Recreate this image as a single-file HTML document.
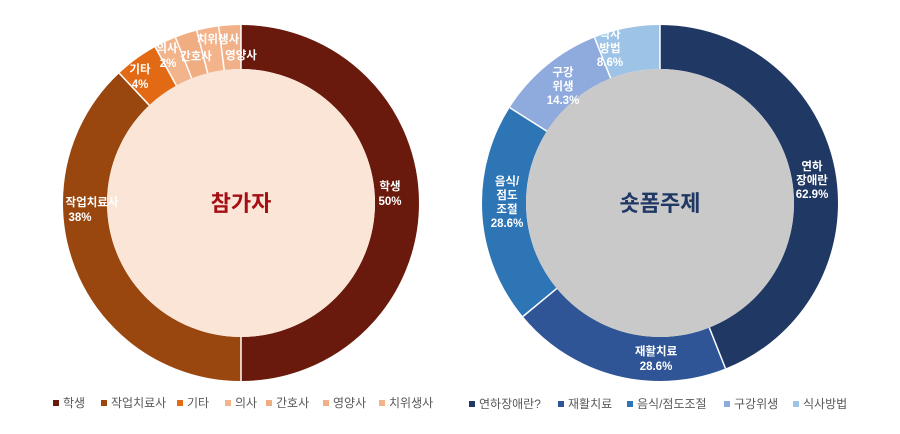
<!DOCTYPE html>
<html><head><meta charset="utf-8"><style>
body{margin:0;background:#fff;}
svg{display:block;font-family:"Liberation Sans","Noto Sans CJK KR",sans-serif;}
.w{fill:#fff;font-size:11.5px;font-weight:bold;}
.lg{fill:#595959;font-size:12px;}
</style></head><body>
<svg width="900" height="434" viewBox="0 0 900 434">
<g transform="translate(241,203) rotate(-90)" fill="none" stroke-width="44">
<circle r="156" stroke="#6a1a0c" stroke-dasharray="490.09 980.18" stroke-dashoffset="0"/>
<circle r="156" stroke="#9a470f" stroke-dasharray="372.47 980.18" stroke-dashoffset="-490.09"/>
<circle r="156" stroke="#e26a14" stroke-dasharray="39.21 980.18" stroke-dashoffset="-862.56"/>
<circle r="156" stroke="#f2b48a" stroke-dasharray="19.6 980.18" stroke-dashoffset="-901.77"/>
<circle r="156" stroke="#f0ad82" stroke-dasharray="19.6 980.18" stroke-dashoffset="-921.37"/>
<circle r="156" stroke="#f3b48c" stroke-dasharray="19.6 980.18" stroke-dashoffset="-940.97"/>
<circle r="156" stroke="#f1b088" stroke-dasharray="19.6 980.18" stroke-dashoffset="-960.58"/>
</g>
<g transform="translate(660,203) rotate(-90)" fill="none" stroke-width="44">
<circle r="156" stroke="#203864" stroke-dasharray="431.2 980.18" stroke-dashoffset="0"/>
<circle r="156" stroke="#2f5597" stroke-dasharray="196.04 980.18" stroke-dashoffset="-431.2"/>
<circle r="156" stroke="#2e75b6" stroke-dasharray="196.04 980.18" stroke-dashoffset="-627.24"/>
<circle r="156" stroke="#8faadc" stroke-dasharray="98.02 980.18" stroke-dashoffset="-823.28"/>
<circle r="156" stroke="#9dc3e6" stroke-dasharray="58.9 980.18" stroke-dashoffset="-921.3"/>
</g>
<g stroke="#fff" stroke-width="1.5">
<line x1="241" y1="25" x2="241" y2="69"/><line x1="241" y1="337" x2="241" y2="381"/>
<line x1="149.3" y1="105.3" x2="119.2" y2="73.2"/>
<line x1="176.4" y1="85.6" x2="155.2" y2="47"/>
<line x1="191.7" y1="78.4" x2="175.5" y2="37.5"/>
<line x1="207.7" y1="73.2" x2="196.7" y2="30.6"/>
<line x1="224.2" y1="70.1" x2="218.7" y2="26.4"/>
<line x1="660" y1="25" x2="660" y2="69"/>
<line x1="709.3" y1="327.6" x2="725.5" y2="368.5"/>
<line x1="556.8" y1="288.4" x2="522.9" y2="316.5"/>
<line x1="546.9" y1="131.2" x2="509.7" y2="107.6"/>
<line x1="610.7" y1="78.4" x2="594.5" y2="37.5"/>
</g>
<circle cx="241" cy="203" r="134" fill="#fbe5d6"/>
<text x="241" y="211" text-anchor="middle" font-size="22" font-weight="bold" fill="#a50f14">참가자</text>
<text class="w" x="390" y="190" text-anchor="middle">학생</text>
<text class="w" x="390" y="205" text-anchor="middle">50%</text>
<text class="w" x="92" y="206" text-anchor="middle">작업치료사</text>
<text class="w" x="80" y="221" text-anchor="middle">38%</text>
<text class="w" x="140" y="73" text-anchor="middle">기타</text>
<text class="w" x="140" y="88" text-anchor="middle">4%</text>
<text class="w" x="167" y="52" text-anchor="middle">의사</text>
<text class="w" x="168" y="67" text-anchor="middle">2%</text>
<text class="w" x="196" y="60" text-anchor="middle">간호사</text>
<text class="w" x="218" y="43" text-anchor="middle">치위생사</text>
<text class="w" x="241" y="59" text-anchor="middle">영양사</text>

<circle cx="660" cy="203" r="134" fill="#c9c9c9"/>
<text x="660" y="211" text-anchor="middle" font-size="22" font-weight="bold" fill="#1f3864">숏폼주제</text>
<text class="w" x="812" y="170" text-anchor="middle">연하</text>
<text class="w" x="812" y="184" text-anchor="middle">장애란</text>
<text class="w" x="812" y="198" text-anchor="middle">62.9%</text>
<text class="w" x="656" y="355" text-anchor="middle">재활치료</text>
<text class="w" x="656" y="370" text-anchor="middle">28.6%</text>
<text class="w" x="507" y="185" text-anchor="middle">음식/</text>
<text class="w" x="507" y="199" text-anchor="middle">점도</text>
<text class="w" x="507" y="213" text-anchor="middle">조절</text>
<text class="w" x="507" y="227" text-anchor="middle">28.6%</text>
<text class="w" x="563" y="76" text-anchor="middle">구강</text>
<text class="w" x="563" y="90" text-anchor="middle">위생</text>
<text class="w" x="563" y="104" text-anchor="middle">14.3%</text>
<text class="w" x="610" y="38" text-anchor="middle">식사</text>
<text class="w" x="610" y="52" text-anchor="middle">방법</text>
<text class="w" x="610" y="66" text-anchor="middle">8.6%</text>

<g class="lg">
<rect x="53" y="400" width="6" height="6" fill="#6a1a0c"/><text x="63" y="407">학생</text>
<rect x="101" y="400" width="6" height="6" fill="#9a470f"/><text x="111" y="407">작업치료사</text>
<rect x="177" y="400" width="6" height="6" fill="#e26a14"/><text x="187" y="407">기타</text>
<rect x="225" y="400" width="6" height="6" fill="#f2b48a"/><text x="235" y="407">의사</text>
<rect x="266" y="400" width="6" height="6" fill="#f0ad82"/><text x="276" y="407">간호사</text>
<rect x="323" y="400" width="6" height="6" fill="#f1b088"/><text x="333" y="407">영양사</text>
<rect x="379" y="400" width="6" height="6" fill="#f3b48c"/><text x="389" y="407">치위생사</text>
<rect x="469" y="401" width="6" height="6" fill="#203864"/><text x="479" y="408">연하장애란?</text>
<rect x="558" y="401" width="6" height="6" fill="#2f5597"/><text x="568" y="408">재활치료</text>
<rect x="627" y="401" width="6" height="6" fill="#2e75b6"/><text x="637" y="408">음식/점도조절</text>
<rect x="724" y="401" width="6" height="6" fill="#8faadc"/><text x="734" y="408">구강위생</text>
<rect x="793" y="401" width="6" height="6" fill="#9dc3e6"/><text x="803" y="408">식사방법</text>
</g>
</svg>
</body></html>
